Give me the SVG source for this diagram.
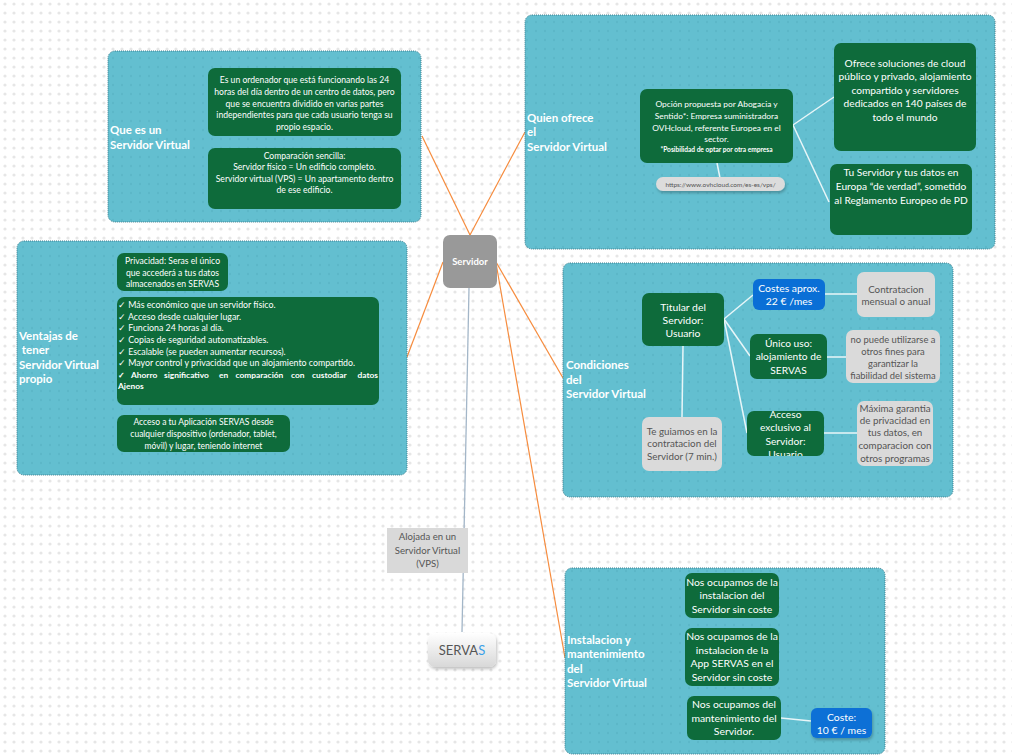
<svg xmlns="http://www.w3.org/2000/svg" width="1012" height="756" viewBox="0 0 1012 756">
<defs>
<pattern id="dots" width="9" height="9" patternUnits="userSpaceOnUse"><circle cx="5" cy="4" r="1.6" fill="#e6e6e6"/></pattern>
<pattern id="pdots" width="9" height="9" patternUnits="userSpaceOnUse"><circle cx="5" cy="4" r="1.3" fill="#4fa9bb" fill-opacity="0.35"/></pattern>
<linearGradient id="sg" x1="0" y1="0" x2="0" y2="1"><stop offset="0" stop-color="#ffffff"/><stop offset="1" stop-color="#d8d8d8"/></linearGradient>
<filter id="sh" x="-20%" y="-30%" width="140%" height="170%"><feDropShadow dx="1" dy="2" stdDeviation="1.5" flood-color="#000" flood-opacity="0.25"/></filter>
<clipPath id="clipAcc"><rect x="747" y="411" width="77" height="45" rx="6"/></clipPath>
</defs>
<style>
.panel{fill:#63bfd0;stroke:#3d7f8e;stroke-width:1;stroke-dasharray:1 1}
.g{fill:#0e6b3b}
.b{fill:#0a6fd6}
.gr{fill:#dadada}
.t{font-family:Lato,"Liberation Sans",sans-serif;fill:#fff;text-anchor:middle}
.tg{font-family:Lato,"Liberation Sans",sans-serif;fill:#555;text-anchor:middle}
.tl{font-family:Lato,"Liberation Sans",sans-serif;fill:#fff}
.tb{font-family:Lato,"Liberation Sans",sans-serif;fill:#fff;font-weight:bold;font-size:8.4px}
.hd{font-family:Lato,"Liberation Sans",sans-serif;font-weight:bold;fill:#fff;font-size:11.5px}
.oc{stroke:#f68c3e;stroke-width:1.2;fill:none}
.wc{stroke:#e8f6f8;stroke-width:1.5;fill:none}
</style>
<rect width="1012" height="756" fill="#fff"/>
<rect width="1012" height="756" fill="url(#dots)"/>

<g id="connectors">
<line class="oc" x1="470" y1="235" x2="422" y2="136"/>
<line class="oc" x1="470" y1="235" x2="525" y2="132"/>
<line class="oc" x1="443" y1="262" x2="407" y2="357"/>
<line class="oc" x1="496" y1="262" x2="563" y2="378"/>
<line class="oc" x1="496" y1="263" x2="565" y2="658"/>
<line x1="469" y1="288" x2="462" y2="632" stroke="#a3b6c8" stroke-width="1.3"/>
</g>

<g id="panel-que-es">
<rect class="panel" x="108" y="51" width="313" height="171" rx="7"/>
<rect x="108" y="51" width="313" height="171" rx="7" fill="url(#pdots)"/>
<text class="hd" x="110" y="134">Que es un</text>
<text class="hd" x="110" y="149">Servidor Virtual</text>
<g id="que-es-1"><rect class="g" x="208" y="68" width="193" height="68" rx="7"/>
<text class="t" font-size="8.6"><tspan x="304.5" y="83">Es un ordenador que está funcionando las 24</tspan><tspan x="304.5" y="95">horas del día dentro de un centro de datos, pero</tspan><tspan x="304.5" y="106.5">que se encuentra dividido en varias partes</tspan><tspan x="304.5" y="118">independientes para que cada usuario tenga su</tspan><tspan x="304.5" y="129.5">propio espacio.</tspan></text></g>
<g id="que-es-2"><rect class="g" x="208" y="148" width="193" height="61" rx="7"/>
<text class="t" font-size="8.6"><tspan x="304.5" y="159">Comparación sencilla:</tspan><tspan x="304.5" y="170">Servidor físico = Un edificio completo.</tspan><tspan x="304.5" y="181.5">Servidor virtual (VPS) = Un apartamento dentro</tspan><tspan x="304.5" y="193">de ese edificio.</tspan></text></g>
</g>

<g id="panel-ventajas">
<rect class="panel" x="17" y="241" width="390" height="234" rx="7"/>
<rect x="17" y="241" width="390" height="234" rx="7" fill="url(#pdots)"/>
<text class="hd"><tspan x="19" y="340">Ventajas de</tspan><tspan x="19" y="354"> tener</tspan><tspan x="19" y="369">Servidor Virtual</tspan><tspan x="19" y="383">propio</tspan></text>
<g id="ventajas-1"><rect class="g" x="117" y="253" width="111" height="38" rx="7"/>
<text class="t" font-size="8.6"><tspan x="172.5" y="264">Privacidad: Seras el único</tspan><tspan x="172.5" y="275.5">que accederá a tus datos</tspan><tspan x="172.5" y="287">almacenados en SERVAS</tspan></text></g>
<g id="ventajas-2"><rect class="g" x="117" y="297" width="262" height="108" rx="7"/>
<text class="tl" font-size="8.8"><tspan x="118" y="308">✓ Más económico que un servidor físico.</tspan><tspan x="118" y="320">✓ Acceso desde cualquier lugar.</tspan><tspan x="118" y="331">✓ Funciona 24 horas al día.</tspan><tspan x="118" y="343">✓ Copias de seguridad automatizables.</tspan><tspan x="118" y="354.5">✓ Escalable (se pueden aumentar recursos).</tspan><tspan x="118" y="366">✓ Mayor control y privacidad que un alojamiento compartido.</tspan></text>
<text class="tb" x="118" y="377.5">✓</text>
<text class="tb" x="131" y="377.5">Ahorro</text>
<text class="tb" x="164" y="377.5">significativo</text>
<text class="tb" x="219" y="377.5">en</text>
<text class="tb" x="235.5" y="377.5">comparación</text>
<text class="tb" x="291" y="377.5">con</text>
<text class="tb" x="312" y="377.5">custodiar</text>
<text class="tb" x="378" y="377.5" text-anchor="end">datos</text>
<text class="tb" x="118" y="389">Ajenos</text></g>
<g id="ventajas-3"><rect class="g" x="117" y="415" width="173" height="37" rx="7"/>
<text class="t" font-size="8.5"><tspan x="203.5" y="424.5">Acceso a tu Aplicación SERVAS  desde</tspan><tspan x="203.5" y="437">cualquier dispositivo (ordenador, tablet,</tspan><tspan x="203.5" y="449">móvil) y lugar, teniendo internet</tspan></text></g>
</g>

<g id="panel-quien">
<rect class="panel" x="525" y="15" width="470" height="234" rx="7"/>
<rect x="525" y="15" width="470" height="234" rx="7" fill="url(#pdots)"/>
<text class="hd"><tspan x="527" y="122">Quien ofrece</tspan><tspan x="527" y="136">el</tspan><tspan x="527" y="151">Servidor Virtual</tspan></text>
<line class="wc" x1="717" y1="163" x2="720" y2="178"/>
<line class="wc" x1="793" y1="125" x2="834" y2="97"/>
<line class="wc" x1="793" y1="125" x2="829" y2="202"/>
<g id="quien-1"><rect class="g" x="640" y="89" width="153" height="74" rx="7"/>
<text class="t" font-size="8.4"><tspan x="716.5" y="107">Opción propuesta por Abogacia y</tspan><tspan x="716.5" y="119">Sentido*: Empresa suministradora</tspan><tspan x="716.5" y="131">OVHcloud, referente Europea en el</tspan><tspan x="716.5" y="142">sector.</tspan></text>
<text class="t" font-size="6.6" font-weight="bold" x="716.5" y="152">*Posibilidad de optar por otra empresa</text></g>
<g id="quien-url"><rect x="656" y="177" width="129" height="14" rx="7" fill="#dcdcdc" filter="url(#sh)"/>
<text class="tg" font-size="6.5" x="720.5" y="186.5" fill="#777">https://www.ovhcloud.com/es-es/vps/</text></g>
<g id="quien-2"><rect class="g" x="834" y="43" width="142" height="108" rx="7"/>
<text class="t" font-size="10.2"><tspan x="905" y="67">Ofrece soluciones de cloud</tspan><tspan x="905" y="80">público y privado, alojamiento</tspan><tspan x="905" y="93.5">compartido y servidores</tspan><tspan x="905" y="107">dedicados en 140 países de</tspan><tspan x="905" y="121">todo el mundo</tspan></text></g>
<g id="quien-3"><rect class="g" x="830" y="164" width="142" height="71" rx="7"/>
<text class="t" font-size="10.2"><tspan x="901" y="176">Tu Servidor y tus datos en</tspan><tspan x="901" y="190">Europa “de verdad”, sometido</tspan><tspan x="901" y="204">al Reglamento Europeo de PD</tspan></text></g>
</g>

<g id="panel-condiciones">
<rect class="panel" x="563" y="263" width="390" height="234" rx="7"/>
<rect x="563" y="263" width="390" height="234" rx="7" fill="url(#pdots)"/>
<text class="hd"><tspan x="566" y="369">Condiciones</tspan><tspan x="566" y="384">del</tspan><tspan x="566" y="398">Servidor Virtual</tspan></text>
<line class="wc" x1="724" y1="319" x2="753" y2="295"/>
<line class="wc" x1="724" y1="319" x2="750" y2="356"/>
<line class="wc" x1="724" y1="319" x2="747" y2="433"/>
<line class="wc" x1="825" y1="294" x2="857" y2="294"/>
<line class="wc" x1="827" y1="357" x2="846" y2="357"/>
<line class="wc" x1="824" y1="433" x2="857" y2="433"/>
<line class="wc" x1="683" y1="346" x2="682" y2="417"/>
<g id="cond-titular"><rect class="g" x="642" y="293" width="82" height="53" rx="7"/>
<text class="t" font-size="10.4"><tspan x="683" y="311">Titular del</tspan><tspan x="683" y="324">Servidor:</tspan><tspan x="683" y="337">Usuario</tspan></text></g>
<g id="cond-costes"><rect class="b" x="753" y="279" width="72" height="31" rx="6"/>
<text class="t" font-size="10.4"><tspan x="789" y="291.5">Costes aprox.</tspan><tspan x="789" y="305">22 € /mes</tspan></text></g>
<g id="cond-contratacion"><rect class="gr" x="857" y="272" width="78" height="45" rx="7"/>
<text class="tg" font-size="9.8"><tspan x="896" y="292.5">Contratacion</tspan><tspan x="896" y="305">mensual o anual</tspan></text></g>
<g id="cond-unico"><rect class="g" x="750" y="334" width="77" height="45" rx="7"/>
<text class="t" font-size="10.2"><tspan x="788.5" y="347">Único uso:</tspan><tspan x="788.5" y="360">alojamiento de</tspan><tspan x="788.5" y="374">SERVAS</tspan></text></g>
<g id="cond-nopuede"><rect class="gr" x="846" y="330" width="94" height="53" rx="7"/>
<text class="tg" font-size="9.4"><tspan x="893" y="342.5">no puede utilizarse a</tspan><tspan x="893" y="354.5">otros fines para</tspan><tspan x="893" y="366.5">garantizar la</tspan><tspan x="893" y="379">fiabilidad del sistema</tspan></text></g>
<g id="cond-acceso"><rect class="g" x="747" y="411" width="77" height="45" rx="7"/>
<g clip-path="url(#clipAcc)"><text class="t" font-size="10.2"><tspan x="785.5" y="418">Acceso</tspan><tspan x="785.5" y="431">exclusivo al</tspan><tspan x="785.5" y="445">Servidor:</tspan><tspan x="785.5" y="458">Usuario</tspan></text></g></g>
<g id="cond-maxima"><rect class="gr" x="857" y="401" width="76" height="65" rx="7"/>
<text class="tg" font-size="9.8"><tspan x="895" y="411.5">Máxima garantia</tspan><tspan x="895" y="423.5">de privacidad en</tspan><tspan x="895" y="436">tus datos, en</tspan><tspan x="895" y="448.5">comparacion con</tspan><tspan x="895" y="461.5">otros programas</tspan></text></g>
<g id="cond-guiamos"><rect class="gr" x="642" y="417" width="80" height="54" rx="7"/>
<text class="tg" font-size="9.8"><tspan x="682" y="434.5">Te guiamos en la</tspan><tspan x="682" y="447">contratacion del</tspan><tspan x="682" y="459.5">Servidor (7 min.)</tspan></text></g>
</g>

<g id="panel-instalacion">
<rect class="panel" x="565" y="568" width="320" height="186" rx="7"/>
<rect x="565" y="568" width="320" height="186" rx="7" fill="url(#pdots)"/>
<text class="hd"><tspan x="567" y="644">Instalacion y</tspan><tspan x="567" y="658">mantenimiento</tspan><tspan x="567" y="673">del</tspan><tspan x="567" y="687">Servidor Virtual</tspan></text>
<line class="wc" x1="781" y1="718" x2="811" y2="721"/>
<g id="inst-1"><rect class="g" x="685" y="573" width="94" height="45" rx="7"/>
<text class="t" font-size="10.4"><tspan x="732" y="586">Nos ocupamos de la</tspan><tspan x="732" y="599">instalacion del</tspan><tspan x="732" y="613">Servidor sin coste</tspan></text></g>
<g id="inst-2"><rect class="g" x="685" y="628" width="94" height="58" rx="7"/>
<text class="t" font-size="10.4"><tspan x="732" y="640">Nos ocupamos de la</tspan><tspan x="732" y="654">instalacion  de la</tspan><tspan x="732" y="667">App SERVAS en el</tspan><tspan x="732" y="681">Servidor sin coste</tspan></text></g>
<g id="inst-3"><rect class="g" x="687" y="696" width="94" height="44" rx="7"/>
<text class="t" font-size="10.4"><tspan x="734" y="708">Nos ocupamos del</tspan><tspan x="734" y="722">mantenimiento del</tspan><tspan x="734" y="735">Servidor.</tspan></text></g>
<g id="inst-coste"><rect class="b" x="811" y="708" width="61" height="30" rx="6" filter="url(#sh)"/>
<text class="t" font-size="10.4"><tspan x="841.5" y="721">Coste:</tspan><tspan x="841.5" y="734">10 € / mes</tspan></text></g>
</g>

<g id="node-servidor">
<rect x="443" y="235" width="54" height="53" rx="7" fill="#999999"/>
<text class="t" font-size="9.5" font-weight="bold" x="470" y="265">Servidor</text>
</g>

<g id="label-alojada">
<rect x="387" y="528" width="81" height="45" fill="#d9d9d9"/>
<text class="tg" font-size="9.6"><tspan x="427.5" y="540">Alojada en un</tspan><tspan x="427.5" y="554">Servidor Virtual</tspan><tspan x="427.5" y="567">(VPS)</tspan></text>
</g>

<g id="node-servas">
<rect x="428" y="633" width="68" height="34" rx="7" fill="url(#sg)" filter="url(#sh)"/>
<text class="tg" font-size="13" x="462" y="655">SERVA<tspan fill="#3aa0e8">S</tspan></text>
</g>
</svg>
